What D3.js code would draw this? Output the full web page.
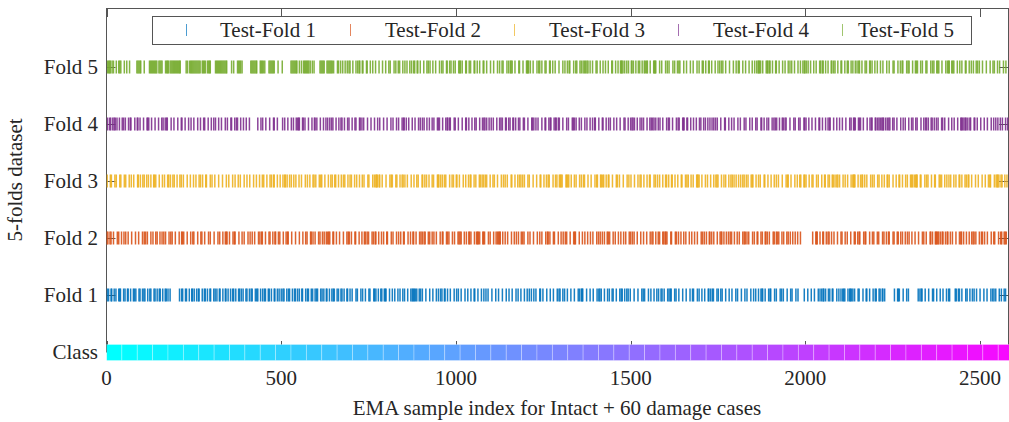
<!DOCTYPE html>
<html>
<head>
<meta charset="utf-8">
<script src="https://cdn.jsdelivr.net/npm/d3@7/dist/d3.min.js"></script>
<style>
  body { margin: 0; background: #fff; }
  text { font-family: "Liberation Serif", "Times New Roman", serif; fill: #262626; }
</style>
</head>
<body>
<div id="chart"></div>
<script>
var svgWidth = 1009;
var svgHeight = 422;

// Data
var nClasses = 61;          // intact + 60 damage cases
var samplesPerClass = 44;
var xMax = 2580;
var rowLabels = ["Class", "Fold 1", "Fold 2", "Fold 3", "Fold 4", "Fold 5"];
var legendLabels = ["Test-Fold 1", "Test-Fold 2", "Test-Fold 3", "Test-Fold 4", "Test-Fold 5"];
var foldColors = ["#0072BD", "#D95319", "#EDB120", "#7E2F8E", "#77AC30"];
var xTicks = [0, 500, 1000, 1500, 2000, 2500];

// test sample indices of each fold
var fold1 = [2, 6, 13, 15, 22, 27, 35, 38, 40, 49, 53, 60, 62, 69, 77, 80, 84, 93, 96, 103, 107, 110,
  118, 124, 127, 136, 139, 145, 151, 154, 161, 168, 171, 176, 182, 209, 215, 218, 226, 229, 237, 244,
  246, 251, 258, 263, 265, 274, 280, 283, 289, 296, 298, 307, 311, 316, 323, 325, 333, 340, 342, 348,
  355, 361, 364, 370, 378, 381, 386, 391, 399, 402, 409, 414, 417, 426, 430, 433, 441, 447, 452, 455,
  463, 466, 472, 480, 482, 489, 494, 500, 505, 508, 516, 521, 524, 532, 538, 541, 547, 552, 559, 561,
  570, 575, 578, 586, 590, 597, 601, 604, 613, 617, 622, 629, 631, 638, 645, 649, 652, 660, 664, 671,
  674, 680, 688, 690, 697, 703, 714, 718, 728, 733, 741, 751, 754, 765, 767, 771, 778, 785, 788, 795,
  798, 800, 810, 818, 825, 834, 840, 848, 853, 862, 871, 875, 878, 881, 884, 888, 895, 899, 904, 914,
  925, 934, 944, 950, 956, 960, 967, 969, 976, 984, 995, 1002, 1007, 1015, 1026, 1034, 1043, 1052,
  1054, 1063, 1073, 1080, 1086, 1092, 1103, 1114, 1122, 1133, 1144, 1152, 1161, 1172, 1178, 1186,
  1196, 1204, 1210, 1216, 1223, 1229, 1240, 1242, 1249, 1260, 1270, 1279, 1290, 1295, 1298, 1306,
  1311, 1319, 1329, 1339, 1350, 1354, 1359, 1361, 1363, 1374, 1384, 1393, 1404, 1409, 1412, 1416,
  1425, 1434, 1439, 1447, 1450, 1459, 1469, 1473, 1476, 1483, 1489, 1493, 1499, 1510, 1521, 1532,
  1536, 1540, 1551, 1558, 1567, 1575, 1580, 1587, 1590, 1596, 1606, 1610, 1614, 1616, 1626, 1630,
  1638, 1649, 1659, 1670, 1677, 1680, 1691, 1696, 1704, 1712, 1722, 1724, 1729, 1734, 1737, 1747,
  1751, 1758, 1762, 1772, 1782, 1790, 1801, 1806, 1817, 1827, 1833, 1844, 1852, 1858, 1866, 1873,
  1876, 1878, 1885, 1895, 1899, 1901, 1912, 1917, 1928, 1932, 1937, 1948, 1958, 1962, 1973, 1979,
  1997, 2007, 2017, 2026, 2037, 2042, 2047, 2051, 2053, 2058, 2066, 2070, 2077, 2079, 2090, 2096,
  2102, 2107, 2110, 2113, 2122, 2127, 2129, 2132, 2136, 2141, 2151, 2154, 2165, 2174, 2176, 2184,
  2194, 2200, 2203, 2211, 2214, 2220, 2222, 2227, 2255, 2264, 2266, 2269, 2280, 2290, 2295, 2323,
  2328, 2332, 2334, 2343, 2353, 2364, 2367, 2376, 2386, 2394, 2404, 2410, 2413, 2429, 2432, 2438,
  2441, 2448, 2459, 2463, 2471, 2478, 2483, 2490, 2500, 2511, 2520, 2531, 2536, 2540, 2545, 2555,
  2561, 2569, 2573];

var fold2 = [1, 4, 10, 13, 20, 31, 35, 43, 50, 55, 62, 72, 83, 92, 103, 108, 112, 117, 127, 133, 141,
  145, 153, 159, 164, 169, 179, 184, 188, 197, 208, 215, 217, 221, 231, 241, 247, 250, 261, 270, 273,
  281, 292, 297, 308, 319, 324, 333, 340, 343, 345, 352, 362, 366, 368, 379, 388, 394, 405, 411, 417,
  424, 435, 439, 444, 446, 455, 465, 468, 476, 482, 484, 492, 496, 506, 514, 518, 520, 530, 541, 552,
  562, 570, 574, 584, 586, 591, 597, 607, 611, 618, 623, 629, 633, 636, 639, 648, 650, 658, 667, 678,
  688, 692, 695, 701, 711, 713, 723, 731, 738, 741, 746, 750, 760, 764, 769, 771, 779, 787, 793, 802,
  804, 815, 820, 830, 836, 842, 850, 852, 863, 870, 877, 879, 886, 896, 900, 904, 909, 912, 921, 925,
  932, 937, 944, 955, 961, 963, 973, 976, 980, 990, 996, 1006, 1009, 1012, 1015, 1024, 1030, 1037,
  1039, 1043, 1053, 1059, 1062, 1064, 1068, 1077, 1079, 1082, 1093, 1098, 1108, 1115, 1119, 1122,
  1125, 1127, 1134, 1141, 1148, 1159, 1167, 1173, 1179, 1187, 1191, 1195, 1206, 1212, 1222, 1233,
  1240, 1246, 1257, 1262, 1264, 1269, 1279, 1282, 1293, 1301, 1307, 1313, 1317, 1327, 1337, 1340,
  1342, 1353, 1362, 1369, 1377, 1385, 1392, 1403, 1408, 1413, 1419, 1425, 1433, 1436, 1440, 1450,
  1456, 1465, 1472, 1480, 1486, 1496, 1500, 1505, 1510, 1519, 1529, 1537, 1546, 1556, 1561, 1564,
  1572, 1579, 1583, 1592, 1595, 1599, 1601, 1604, 1615, 1617, 1628, 1631, 1637, 1644, 1652, 1658,
  1668, 1675, 1683, 1691, 1702, 1706, 1711, 1717, 1725, 1727, 1732, 1738, 1748, 1756, 1759, 1761,
  1767, 1774, 1780, 1785, 1789, 1797, 1805, 1811, 1821, 1825, 1828, 1833, 1838, 1849, 1854, 1862,
  1864, 1873, 1877, 1885, 1887, 1891, 1897, 1908, 1911, 1917, 1920, 1924, 1933, 1938, 1947, 1951,
  1957, 1964, 1971, 1978, 1986, 2021, 2030, 2032, 2034, 2042, 2050, 2052, 2060, 2065, 2068, 2075,
  2082, 2092, 2102, 2105, 2114, 2120, 2130, 2140, 2143, 2150, 2154, 2156, 2167, 2171, 2173, 2184,
  2192, 2196, 2206, 2210, 2221, 2225, 2232, 2238, 2240, 2251, 2254, 2263, 2266, 2273, 2278, 2286,
  2292, 2297, 2305, 2314, 2324, 2335, 2339, 2346, 2357, 2359, 2364, 2372, 2374, 2376, 2379, 2382,
  2387, 2392, 2394, 2401, 2406, 2408, 2415, 2421, 2431, 2441, 2445, 2447, 2453, 2461, 2469, 2476,
  2480, 2483, 2488, 2498, 2504, 2507, 2513, 2521, 2532, 2539, 2542, 2553, 2559, 2562, 2569, 2572,
  2575];

var fold3 = [2, 11, 14, 24, 28, 38, 41, 51, 55, 65, 71, 78, 89, 91, 97, 104, 108, 115, 120, 127, 135,
  137, 141, 151, 160, 166, 175, 178, 183, 190, 194, 202, 210, 214, 220, 231, 240, 249, 256, 265, 269,
  275, 284, 286, 297, 302, 310, 321, 332, 343, 350, 361, 368, 377, 383, 394, 402, 410, 421, 429, 438,
  446, 450, 459, 468, 472, 478, 480, 489, 497, 505, 510, 512, 517, 524, 529, 536, 542, 551, 558, 569,
  575, 582, 591, 594, 599, 609, 613, 616, 625, 635, 642, 646, 653, 656, 664, 672, 678, 682, 691, 697,
  701, 710, 716, 724, 732, 737, 748, 751, 762, 767, 771, 773, 775, 780, 782, 789, 800, 811, 815, 818,
  828, 831, 840, 846, 849, 854, 861, 872, 880, 888, 892, 903, 905, 911, 916, 923, 932, 936, 947, 949,
  951, 956, 961, 967, 971, 982, 989, 993, 1001, 1003, 1010, 1021, 1028, 1036, 1041, 1043, 1052, 1057,
  1067, 1070, 1075, 1079, 1084, 1088, 1098, 1106, 1110, 1119, 1130, 1136, 1141, 1147, 1158, 1160,
  1169, 1177, 1182, 1186, 1191, 1196, 1206, 1210, 1221, 1231, 1241, 1243, 1252, 1259, 1264, 1267,
  1278, 1285, 1289, 1296, 1299, 1301, 1304, 1315, 1317, 1320, 1323, 1330, 1339, 1344, 1354, 1359,
  1365, 1368, 1378, 1387, 1398, 1403, 1405, 1414, 1416, 1420, 1423, 1430, 1436, 1438, 1448, 1459,
  1462, 1468, 1479, 1490, 1495, 1501, 1511, 1521, 1527, 1530, 1538, 1547, 1554, 1556, 1567, 1571,
  1577, 1583, 1592, 1600, 1603, 1609, 1617, 1619, 1627, 1635, 1645, 1647, 1657, 1661, 1665, 1673,
  1679, 1689, 1691, 1693, 1696, 1704, 1714, 1720, 1729, 1738, 1744, 1747, 1750, 1760, 1767, 1772,
  1781, 1787, 1791, 1796, 1802, 1809, 1815, 1821, 1825, 1831, 1836, 1845, 1848, 1850, 1859, 1866,
  1871, 1882, 1884, 1893, 1902, 1911, 1917, 1923, 1934, 1945, 1949, 1951, 1959, 1970, 1977, 1984,
  1987, 1996, 1998, 2002, 2011, 2019, 2022, 2032, 2037, 2047, 2055, 2057, 2065, 2069, 2077, 2080,
  2085, 2090, 2093, 2098, 2108, 2114, 2121, 2131, 2136, 2138, 2140, 2142, 2151, 2158, 2162, 2164,
  2170, 2176, 2187, 2192, 2197, 2207, 2211, 2219, 2226, 2234, 2236, 2240, 2251, 2260, 2268, 2270,
  2278, 2287, 2292, 2301, 2304, 2307, 2312, 2316, 2318, 2320, 2329, 2331, 2342, 2347, 2351, 2361,
  2370, 2372, 2383, 2386, 2390, 2399, 2405, 2411, 2416, 2425, 2431, 2440, 2442, 2448, 2457, 2461,
  2466, 2468, 2476, 2487, 2495, 2506, 2515, 2524, 2528, 2530, 2541, 2546, 2549, 2551, 2554, 2560,
  2563, 2571, 2577];

var fold4 = [3, 9, 12, 18, 22, 25, 30, 37, 45, 49, 54, 63, 68, 70, 81, 88, 90, 96, 106, 116, 118, 121,
  129, 139, 149, 158, 162, 168, 172, 174, 185, 193, 204, 214, 216, 225, 235, 242, 250, 261, 269, 278,
  281, 291, 300, 307, 312, 321, 329, 340, 346, 356, 358, 367, 372, 375, 384, 392, 400, 409, 433, 442,
  447, 456, 467, 478, 480, 489, 504, 510, 519, 529, 535, 543, 547, 550, 552, 561, 563, 568, 578, 588,
  595, 597, 602, 612, 621, 628, 633, 639, 644, 648, 657, 665, 671, 674, 681, 690, 694, 703, 711, 714,
  724, 726, 731, 736, 747, 757, 767, 776, 782, 793, 803, 814, 820, 830, 836, 846, 850, 852, 858, 865,
  875, 883, 893, 898, 904, 909, 917, 924, 932, 937, 947, 950, 953, 962, 971, 975, 977, 982, 984, 995,
  998, 1007, 1018, 1028, 1030, 1037, 1046, 1054, 1058, 1068, 1076, 1080, 1083, 1088, 1095, 1101,
  1107, 1117, 1125, 1129, 1133, 1142, 1144, 1151, 1155, 1163, 1165, 1171, 1179, 1183, 1193, 1196,
  1206, 1217, 1219, 1223, 1229, 1235, 1246, 1255, 1257, 1266, 1270, 1272, 1281, 1285, 1287, 1293,
  1296, 1306, 1317, 1322, 1333, 1336, 1339, 1344, 1353, 1359, 1369, 1375, 1384, 1391, 1397, 1399,
  1409, 1419, 1421, 1430, 1437, 1442, 1452, 1460, 1470, 1481, 1484, 1493, 1500, 1504, 1507, 1511,
  1519, 1527, 1532, 1537, 1547, 1555, 1559, 1563, 1567, 1572, 1579, 1584, 1592, 1603, 1608, 1611,
  1620, 1631, 1636, 1639, 1649, 1651, 1653, 1661, 1663, 1672, 1680, 1688, 1697, 1701, 1709, 1714,
  1721, 1727, 1733, 1738, 1743, 1748, 1758, 1769, 1771, 1781, 1789, 1796, 1807, 1814, 1825, 1830,
  1841, 1848, 1858, 1862, 1873, 1875, 1882, 1890, 1895, 1905, 1910, 1914, 1918, 1926, 1934, 1937,
  1942, 1945, 1956, 1967, 1971, 1981, 1985, 1996, 1998, 2002, 2010, 2019, 2029, 2039, 2041, 2049,
  2058, 2065, 2069, 2071, 2081, 2090, 2098, 2106, 2116, 2127, 2131, 2138, 2140, 2143, 2152, 2155,
  2158, 2166, 2177, 2185, 2189, 2191, 2200, 2202, 2207, 2211, 2215, 2219, 2222, 2224, 2230, 2235,
  2239, 2242, 2250, 2254, 2262, 2273, 2280, 2286, 2296, 2304, 2308, 2316, 2320, 2331, 2339, 2344,
  2347, 2352, 2360, 2363, 2369, 2375, 2380, 2390, 2393, 2399, 2410, 2419, 2426, 2436, 2445, 2447,
  2450, 2454, 2458, 2460, 2465, 2471, 2473, 2483, 2485, 2492, 2502, 2512, 2521, 2532, 2539, 2545,
  2551, 2558, 2564, 2573, 2579];

var fold5 = [3, 6, 9, 11, 16, 20, 28, 35, 38, 41, 51, 58, 66, 87, 90, 93, 96, 98, 108, 123, 126, 129,
  132, 135, 138, 141, 144, 150, 153, 156, 159, 169, 172, 175, 177, 182, 185, 188, 191, 194, 197, 200,
  203, 206, 209, 211, 228, 232, 238, 241, 244, 247, 250, 253, 256, 259, 262, 265, 268, 274, 277, 280,
  283, 289, 292, 295, 297, 312, 315, 318, 321, 324, 327, 330, 333, 336, 339, 342, 344, 358, 364, 375,
  378, 381, 384, 388, 413, 416, 419, 422, 425, 428, 430, 440, 443, 446, 449, 453, 465, 468, 471, 474,
  477, 480, 491, 503, 528, 531, 534, 537, 540, 543, 545, 552, 558, 564, 567, 570, 573, 576, 579, 583,
  589, 594, 611, 614, 617, 620, 623, 631, 634, 637, 640, 643, 646, 650, 661, 664, 670, 676, 683, 689,
  694, 697, 705, 714, 719, 723, 725, 732, 734, 744, 746, 755, 762, 770, 780, 790, 799, 808, 812, 823,
  828, 835, 839, 848, 854, 860, 868, 873, 879, 882, 889, 891, 898, 908, 917, 921, 926, 934, 942, 953,
  959, 963, 973, 975, 982, 986, 993, 998, 1008, 1011, 1013, 1018, 1028, 1030, 1038, 1042, 1052, 1054,
  1061, 1068, 1078, 1080, 1088, 1099, 1108, 1119, 1125, 1132, 1135, 1146, 1151, 1156, 1158, 1161,
  1169, 1180, 1182, 1192, 1202, 1204, 1206, 1208, 1213, 1221, 1232, 1237, 1240, 1246, 1255, 1258,
  1268, 1270, 1277, 1284, 1295, 1306, 1312, 1319, 1324, 1326, 1337, 1343, 1346, 1355, 1359, 1364,
  1368, 1371, 1375, 1378, 1384, 1391, 1401, 1404, 1413, 1421, 1428, 1436, 1446, 1448, 1457, 1464,
  1471, 1473, 1475, 1478, 1483, 1489, 1494, 1502, 1504, 1508, 1515, 1522, 1526, 1533, 1539, 1542,
  1546, 1548, 1556, 1566, 1568, 1570, 1572, 1583, 1589, 1600, 1605, 1610, 1621, 1626, 1634, 1638,
  1641, 1652, 1660, 1671, 1679, 1690, 1696, 1705, 1708, 1715, 1723, 1725, 1732, 1742, 1750, 1755,
  1760, 1764, 1772, 1783, 1794, 1802, 1808, 1811, 1821, 1829, 1839, 1848, 1855, 1861, 1865, 1867,
  1869, 1872, 1878, 1888, 1891, 1893, 1897, 1899, 1906, 1915, 1917, 1925, 1935, 1942, 1951, 1956,
  1961, 1969, 1979, 1986, 1993, 1997, 1999, 2003, 2008, 2015, 2024, 2031, 2041, 2044, 2049, 2051,
  2058, 2065, 2074, 2076, 2081, 2085, 2093, 2102, 2104, 2113, 2120, 2123, 2131, 2136, 2143, 2148,
  2153, 2155, 2162, 2171, 2175, 2184, 2186, 2191, 2199, 2206, 2215, 2222, 2233, 2240, 2251, 2254,
  2265, 2272, 2277, 2279, 2290, 2294, 2297, 2307, 2315, 2318, 2321, 2330, 2335, 2345, 2348, 2359,
  2364, 2368, 2376, 2379, 2382, 2391, 2402, 2407, 2410, 2412, 2419, 2422, 2425, 2435, 2442, 2448,
  2458, 2460, 2469, 2475, 2481, 2489, 2493, 2498, 2507, 2518, 2529, 2537, 2541, 2550, 2556, 2567,
  2574];

var folds = [fold1, fold2, fold3, fold4, fold5];

var plot = { left: 106.5, right: 1008, top: 8, bottom: 352 };

var svg = d3.select("#chart")
  .append("svg")
  .attr("width", svgWidth)
  .attr("height", svgHeight);

svg.append("defs").append("clipPath")
  .attr("id", "clip")
  .append("rect")
  .attr("x", plot.left).attr("y", 0)
  .attr("width", svgWidth - plot.left).attr("height", svgHeight);

var xScale = d3.scaleLinear()
  .domain([0, xMax])
  .range([plot.left, plot.right]);

var yScale = d3.scaleLinear()
  .domain([0, 5])
  .range([352, 67]);

var classColor = d3.interpolateRgb("#00ffff", "#ff00ff");

// axes frame
svg.append("line")
  .attr("x1", plot.left).attr("x2", svgWidth)
  .attr("y1", plot.top + 0.5).attr("y2", plot.top + 0.5)
  .attr("stroke", "#555");

svg.append("line")
  .attr("x1", plot.left).attr("x2", plot.left)
  .attr("y1", plot.top).attr("y2", plot.bottom)
  .attr("stroke", "#555");

svg.append("line")
  .attr("x1", plot.right + 0.5).attr("x2", plot.right + 0.5)
  .attr("y1", plot.top).attr("y2", plot.bottom)
  .attr("stroke", "#555");

// x ticks (top and bottom, pointing inward) + labels
xTicks.forEach(function(t) {
  var x = Math.round(xScale(t)) + 0.5;
  svg.append("line")
    .attr("x1", x).attr("x2", x)
    .attr("y1", plot.top).attr("y2", plot.top + 9)
    .attr("stroke", "#555");
  svg.append("line")
    .attr("x1", x).attr("x2", x)
    .attr("y1", plot.bottom).attr("y2", plot.bottom - 11)
    .attr("stroke", "#555");
  svg.append("text")
    .attr("x", xScale(t))
    .attr("y", 385)
    .attr("text-anchor", "middle")
    .attr("font-size", "21px")
    .text(t);
});

// y ticks (left and right) + labels
rowLabels.forEach(function(lab, i) {
  var y = Math.round(yScale(i)) + 0.5;
  svg.append("line")
    .attr("x1", plot.left).attr("x2", plot.left + 9)
    .attr("y1", y).attr("y2", y)
    .attr("stroke", "#555");
  svg.append("line")
    .attr("x1", plot.right).attr("x2", plot.right - 9)
    .attr("y1", y).attr("y2", y)
    .attr("stroke", "#555");
  svg.append("text")
    .attr("x", 98)
    .attr("y", yScale(i) + 7)
    .attr("text-anchor", "end")
    .attr("font-size", "21px")
    .text(lab);
});

// class bar
var classIdx = d3.range(nClasses);
svg.append("g")
  .attr("clip-path", "url(#clip)")
  .selectAll("rect")
  .data(classIdx)
  .enter()
  .append("rect")
  .attr("x", d => xScale(d * samplesPerClass))
  .attr("y", yScale(0) - 7.5)
  .attr("width", d => xScale((d + 1) * samplesPerClass) - xScale(d * samplesPerClass))
  .attr("height", 16)
  .attr("fill", d => classColor(d / (nClasses - 1)))
  .attr("stroke", "#ffffff")
  .attr("stroke-opacity", 0.35)
  .attr("stroke-width", 0.8);

// fold tick marks
folds.forEach(function(fold, f) {
  var yc = yScale(f + 1);
  svg.append("g")
    .attr("clip-path", "url(#clip)")
    .selectAll("line")
    .data(fold)
    .enter()
    .append("line")
    .attr("x1", d => xScale(d))
    .attr("x2", d => xScale(d))
    .attr("y1", yc - 6.5)
    .attr("y2", yc + 6.5)
    .attr("stroke", foldColors[f])
    .attr("stroke-width", 1.5)
    .attr("stroke-opacity", 0.9);
});

// axis labels
svg.append("text")
  .attr("x", 557)
  .attr("y", 415)
  .attr("text-anchor", "middle")
  .attr("font-size", "21px")
  .text("EMA sample index for Intact + 60 damage cases");

svg.append("text")
  .attr("transform", "translate(22, 180) rotate(-90)")
  .attr("text-anchor", "middle")
  .attr("font-size", "21px")
  .text("5-folds dataset");

// legend
var legend = svg.append("g");
legend.append("rect")
  .attr("x", 152.5).attr("y", 16.5)
  .attr("width", 819).attr("height", 28)
  .attr("fill", "#fff")
  .attr("stroke", "#555");

var legendMarkX = [186, 350, 514, 678, 842];
var legendTextX = [220, 385, 549, 713, 858];
legendLabels.forEach(function(lab, i) {
  var mx = legendMarkX[i] + 0.5;
  legend.append("line")
    .attr("x1", mx).attr("x2", mx)
    .attr("y1", 24).attr("y2", 36)
    .attr("stroke", foldColors[i])
    .attr("stroke-width", 1)
    .attr("stroke-opacity", 0.7);
  legend.append("text")
    .attr("x", legendTextX[i])
    .attr("y", 37)
    .attr("font-size", "21px")
    .text(lab);
});
</script>
</body>
</html>
